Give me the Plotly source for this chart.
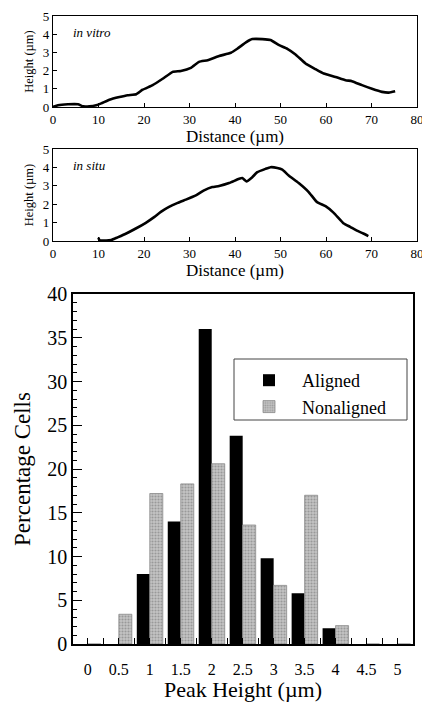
import plotly.graph_objects as go

FONT = "Liberation Serif, Times New Roman, serif"

# --- profile data ---
vitro_x = [0, 1.1, 3.3, 5.5, 6.6, 8, 9.5, 10.6, 12.4, 14.6, 16.4, 18.3, 19.7, 21.9, 24.1, 26.3, 28.1,
           30.3, 32.1, 34, 36.5, 39.1, 40.5, 42.4, 43.8, 46, 47.8, 49.7, 51.5, 53.3, 55.5, 57.7,
           59.5, 62.1, 64.3, 65.7, 67.9, 70.1, 72.3, 73.8, 75.2]
vitro_y = [0, 0.1, 0.15, 0.15, 0.04, 0.04, 0.1, 0.2, 0.4, 0.55, 0.65, 0.7, 0.95, 1.2, 1.55, 1.93, 1.98,
           2.15, 2.48, 2.57, 2.8, 2.98, 3.2, 3.55, 3.73, 3.73, 3.68, 3.4, 3.2, 2.89, 2.39, 2.08,
           1.84, 1.65, 1.47, 1.42, 1.2, 1.0, 0.83, 0.79, 0.86]

situ_x = [10, 10.2, 11.7, 12.8, 14.2, 16.1, 18.2, 20.4, 22.3, 23.7, 25.5, 27.4, 29.2, 31.4, 33.2, 35,
          36.5, 38.7, 40.9, 41.6, 42.5, 43.8, 44.9, 46.7, 47.8, 49.3, 50.4, 51.8, 54, 56.2, 58,
          59.9, 61.7, 63.9, 65.3, 66.8, 68.2, 69.3]
situ_y = [0.18, 0.05, 0.02, 0.05, 0.2, 0.41, 0.68, 0.99, 1.31, 1.58, 1.85, 2.07, 2.25, 2.48, 2.75, 2.93,
          2.99, 3.15, 3.38, 3.42, 3.24, 3.47, 3.74, 3.92, 4.01, 3.97, 3.88, 3.56, 3.15, 2.66, 2.12,
          1.89, 1.53, 0.95, 0.77, 0.56, 0.41, 0.27]

# --- histogram data ---
peak_height = [0, 0.5, 1, 1.5, 2, 2.5, 3, 3.5, 4, 4.5, 5]
aligned = [0, 0, 8, 14, 36, 23.8, 9.8, 5.8, 1.8, 0, 0]
nonaligned = [0, 3.4, 17.2, 18.3, 20.6, 13.6, 6.7, 17, 2.1, 0, 0]
tick_vals = [0, 0.5, 1, 1.5, 2, 2.5, 3, 3.5, 4, 4.5, 5]
tick_text = ["0", "0.5", "1", "1.5", "2", "2.5", "3", "3.5", "4", "4.5", "5"]

W, H = 422, 702
def px(v):
    return v / W
def py(v):
    return 1 - v / H

fig = go.Figure()

fig.add_trace(go.Scatter(x=vitro_x, y=vitro_y, mode="lines", xaxis="x", yaxis="y",
                         line=dict(color="black", width=2.6, shape="spline", smoothing=0.4),
                         showlegend=False, hoverinfo="skip"))
fig.add_trace(go.Scatter(x=situ_x, y=situ_y, mode="lines", xaxis="x2", yaxis="y2",
                         line=dict(color="black", width=2.6, shape="spline", smoothing=0.4),
                         showlegend=False, hoverinfo="skip"))

fig.add_trace(go.Bar(x=peak_height, y=aligned, name="Aligned", xaxis="x3", yaxis="y3",
                     marker=dict(color="black", line=dict(width=0))))
fig.add_trace(go.Bar(x=peak_height, y=nonaligned, name="Nonaligned", xaxis="x3", yaxis="y3",
                     marker=dict(color="#bdbdbd", line=dict(width=0.8, color="#8a8a8a"),
                                 pattern=dict(shape=".", fgcolor="#6e6e6e", bgcolor="#c4c4c4",
                                              size=3, solidity=0.4))))

small_axis = dict(showline=True, linecolor="black", linewidth=1.3, mirror=True,
                  ticks="inside", ticklen=4, tickcolor="black", showgrid=False, zeroline=False,
                  automargin=False,
                  tickfont=dict(family=FONT, size=13, color="black"))

xdom_top = [px(53), px(417)]
fig.update_layout(
    xaxis=dict(domain=xdom_top, anchor="y", range=[0, 80], dtick=10, ticklabeloverflow="allow",
               title=dict(text="Distance (µm)", font=dict(family=FONT, size=17, color="black"), standoff=2),
               **small_axis),
    yaxis=dict(domain=[py(107), py(16)], anchor="x", range=[0, 5], dtick=1,
               title=dict(text="Height (µm)", font=dict(family=FONT, size=12.5, color="black"), standoff=6),
               **small_axis),
    xaxis2=dict(domain=xdom_top, anchor="y2", range=[0, 80], dtick=10, ticklabeloverflow="allow",
                title=dict(text="Distance (µm)", font=dict(family=FONT, size=17, color="black"), standoff=2),
                **small_axis),
    yaxis2=dict(domain=[py(241), py(149)], anchor="x2", range=[0, 5], dtick=1,
                title=dict(text="Height (µm)", font=dict(family=FONT, size=12.5, color="black"), standoff=6),
                **small_axis),
    xaxis3=dict(domain=[px(73), px(413)], anchor="y3", range=[-0.24, 5.25],
                tickmode="array", tickvals=tick_vals, ticktext=tick_text,
                showline=True, linecolor="black", linewidth=1.5, mirror=True,
                ticks="inside", ticklen=6, tickcolor="black", ticklabelstandoff=10,
                minor=dict(dtick=0.25, ticks="inside", ticklen=6, tickcolor="black"),
                showgrid=False, zeroline=False, automargin=False,
                tickfont=dict(family=FONT, size=16, color="black"),
                title=dict(text="Peak Height (µm)", font=dict(family=FONT, size=22, color="black"), standoff=6)),
    yaxis3=dict(domain=[py(644), py(294)], anchor="x3", range=[0, 40], dtick=5,
                showline=True, linecolor="black", linewidth=1.5, mirror=True,
                ticks="inside", ticklen=9, tickcolor="black",
                minor=dict(dtick=1, ticks="inside", ticklen=4, tickcolor="black"),
                showgrid=False, zeroline=False, automargin=False,
                tickfont=dict(family=FONT, size=20, color="black"),
                title=dict(text="Percentage Cells", font=dict(family=FONT, size=23, color="black"), standoff=10)),
    barmode="group", bargap=0.16, bargroupgap=0,
    width=W, height=H, margin=dict(l=0, r=0, t=0, b=0, autoexpand=False),
    paper_bgcolor="white", plot_bgcolor="white",
    showlegend=True,
    legend=dict(x=px(236), y=py(362), xanchor="left", yanchor="top",
                bgcolor="rgba(0,0,0,0)", borderwidth=0, itemwidth=56,
                font=dict(family=FONT, size=18, color="black"), tracegroupgap=0),
    shapes=[dict(type="rect", xref="paper", yref="paper",
                 x0=px(234), x1=px(407), y0=py(420), y1=py(359),
                 line=dict(color="#444", width=1), fillcolor="rgba(0,0,0,0)")],
    annotations=[
        dict(text="<i>in vitro</i>", x=4, y=4.1, xref="x", yref="y", xanchor="left", yanchor="middle",
             showarrow=False, font=dict(family=FONT, size=13, color="black")),
        dict(text="<i>in situ</i>", x=4, y=4.1, xref="x2", yref="y2", xanchor="left", yanchor="middle",
             showarrow=False, font=dict(family=FONT, size=13, color="black")),
    ],
)

fig.write_html("out.html")
